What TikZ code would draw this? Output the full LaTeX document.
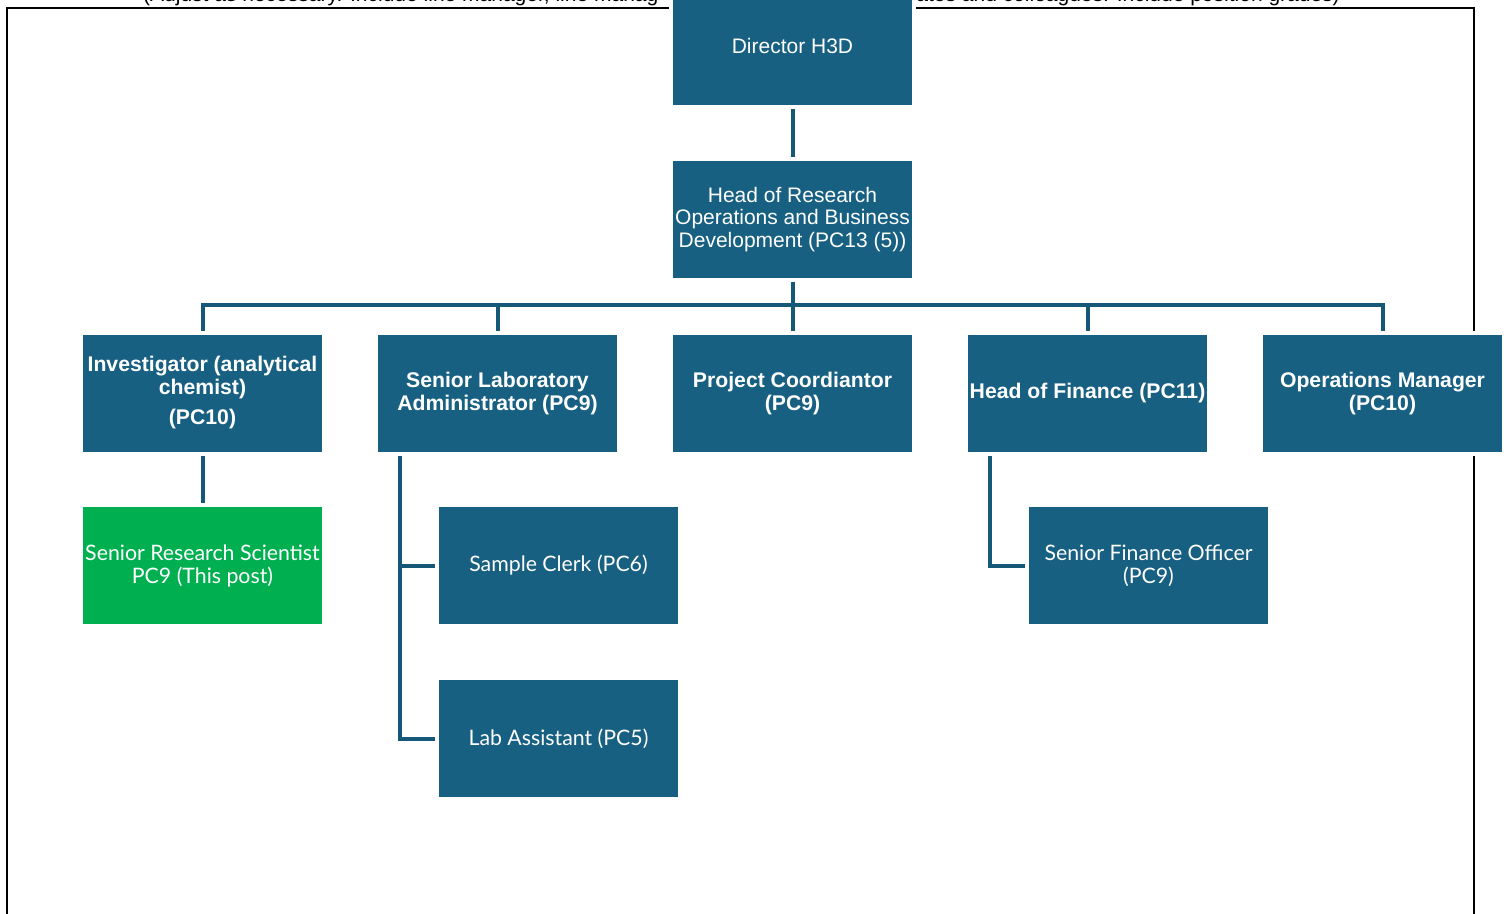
\documentclass[tikz,border=0pt]{standalone}
\usepackage{fontspec}
\setmainfont{Liberation Sans}
\newfontfamily\lowfont{Lato}
\definecolor{boxblue}{RGB}{24,96,130}
\definecolor{linkblue}{RGB}{21,88,120}
\definecolor{postgreen}{RGB}{0,176,80}
\begin{document}
\begin{tikzpicture}[x=1pt,y=-1pt,
  box/.style={rectangle, fill=boxblue, draw=white, line width=4pt, minimum width=243pt, minimum height=121pt, inner sep=0pt, text=white, align=center, font=\fontsize{21}{22.5}\selectfont},
  boldbox/.style={box, font=\fontsize{21.2}{22.5}\selectfont\bfseries},
  lowbox/.style={box, font=\lowfont\fontsize{21.3}{23}\selectfont},
  link/.style={draw=linkblue, line width=4pt},
  note/.style={font=\fontsize{21}{22.5}\selectfont, inner sep=0pt, text=black}]
\useasboundingbox (0,0) rectangle (1504,913);
\clip (0,0) rectangle (1504,913);
\node[note, anchor=base west] (notel) at (143,1) {(Adjust as necessary. Include line manager, line manag};
\node[note, anchor=base east] (noter) at (1340,1) {ates and colleagues. Include position grades)};
\draw[black, line width=2pt] (7,930) -- (7,8) -- (1474,8) -- (1474,930);
% nodes
\node[box, minimum height=123pt] (dir) at (792.5,45.5) {Director H3D};
\node[box] (head) at (792.5,219.5) {Head of Research\\Operations and Business\\Development (PC13 (5))};
\node[boldbox] (inv) at (202.5,393) {Investigator (analytical\\chemist)\\[8pt](PC10)};
\node[boldbox] (sla) at (497.5,393.5) {Senior Laboratory\\Administrator (PC9)};
\node[boldbox] (pc) at (792.5,393.5) {Project Coordiantor\\(PC9)};
\node[boldbox] (hof) at (1087.5,393.5) {Head of Finance (PC11)};
\node[boldbox] (ops) at (1382.5,393.5) {Operations Manager\\(PC10)};
\node[lowbox, fill=postgreen] (srs) at (202.5,565.5) {Senior Research Scientist\\PC9 (This post)};
\node[lowbox] (clerk) at (558.5,565.5) {Sample Clerk (PC6)};
\node[lowbox] (lab) at (558.5,738.5) {Lab Assistant (PC5)};
\node[lowbox] (sfo) at (1148.5,565.5) {Senior Finance Officer\\(PC9)};
% connectors
\coordinate (busy) at (0,305);
\coordinate (slax) at (400,0);
\coordinate (finx) at (990,0);
\draw[link] (dir) -- (head);
\draw[link] (head.south) -- (head.south |- busy);
\draw[link] (inv.north) -- (inv.north |- busy) -- (ops.north |- busy) -- (ops.north);
\foreach \n in {sla,pc,hof} \draw[link] (\n.north) -- (\n.north |- busy);
\draw[link] (inv) -- (srs);
\draw[link] (sla.south -| slax) |- (lab.west);
\draw[link] (slax |- clerk.west) -- (clerk.west);
\draw[link] (hof.south -| finx) |- (sfo.west);
\end{tikzpicture}
\end{document}
